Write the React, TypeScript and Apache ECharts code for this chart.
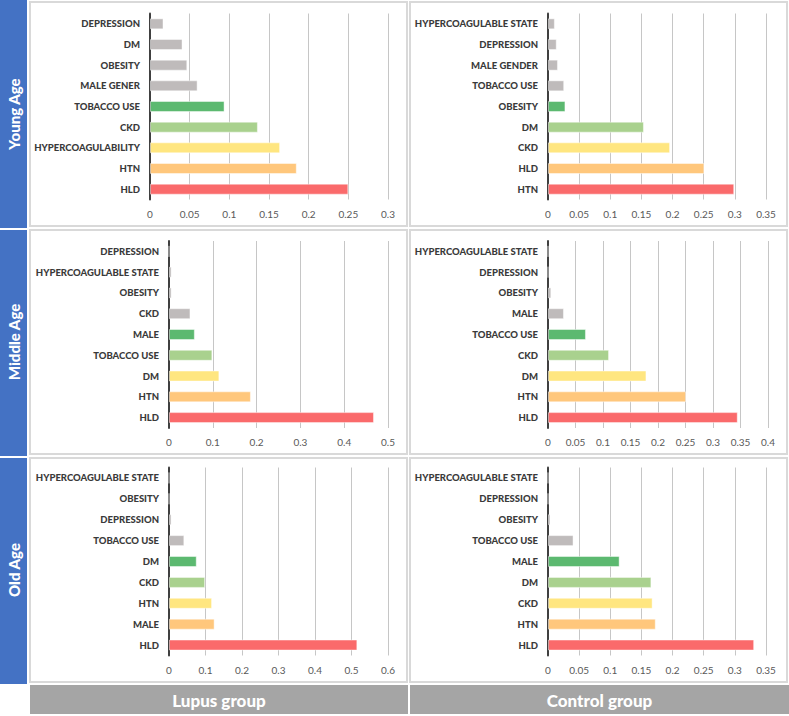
import React, { useEffect, useRef } from "react";
import * as echarts from "echarts";

const youngLupusCats = ["DEPRESSION", "DM", "OBESITY", "MALE GENER", "TOBACCO USE", "CKD", "HYPERCOAGULABILITY", "HTN", "HLD"];
const youngLupusVals = [0.017, 0.041, 0.047, 0.06, 0.094, 0.136, 0.164, 0.185, 0.25];
const youngControlCats = ["HYPERCOAGULABLE STATE", "DEPRESSION", "MALE GENDER", "TOBACCO USE", "OBESITY", "DM", "CKD", "HLD", "HTN"];
const youngControlVals = [0.011, 0.014, 0.016, 0.026, 0.028, 0.154, 0.196, 0.251, 0.299];
const middleLupusCats = ["DEPRESSION", "HYPERCOAGULABLE STATE", "OBESITY", "CKD", "MALE", "TOBACCO USE", "DM", "HTN", "HLD"];
const middleLupusVals = [0, 0.006, 0.006, 0.049, 0.059, 0.099, 0.115, 0.187, 0.468];
const middleControlCats = ["HYPERCOAGULABLE STATE", "DEPRESSION", "OBESITY", "MALE", "TOBACCO USE", "CKD", "DM", "HTN", "HLD"];
const middleControlVals = [0, 0, 0.006, 0.029, 0.069, 0.111, 0.179, 0.251, 0.345];
const oldLupusCats = ["HYPERCOAGULABLE STATE", "OBESITY", "DEPRESSION", "TOBACCO USE", "DM", "CKD", "HTN", "MALE", "HLD"];
const oldLupusVals = [0, 0, 0.007, 0.042, 0.076, 0.099, 0.118, 0.125, 0.516];
const oldControlCats = ["HYPERCOAGULABLE STATE", "DEPRESSION", "OBESITY", "TOBACCO USE", "MALE", "DM", "CKD", "HTN", "HLD"];
const oldControlVals = [0, 0, 0.004, 0.041, 0.115, 0.166, 0.168, 0.173, 0.331];

const rowTitles = ["Young Age", "Middle Age", "Old Age"];
const columnTitles = ["Lupus group", "Control group"];

// colours from top (index 0) to bottom (index 8)
const barColors = ["#bfbbbb", "#bfbbbb", "#bfbbbb", "#bfbbbb", "#5cb970", "#a9d18e", "#ffe680", "#ffc77c", "#fa6a6b"];

const FONT = "Lato, 'Open Sans', sans-serif";

export default function App() {
  const ref = useRef<HTMLDivElement>(null);

  useEffect(() => {
    if (!ref.current) return;
    const chart = echarts.init(ref.current, null, { renderer: "svg" });

    const panels = [
      { cats: youngLupusCats, vals: youngLupusVals, max: 0.3, interval: 0.05, left: 150, right: 401, top: 13.5, bottom: 716 - 199.5 },
      { cats: youngControlCats, vals: youngControlVals, max: 0.35, interval: 0.05, left: 548, right: 23, top: 13.5, bottom: 716 - 199.5 },
      { cats: middleLupusCats, vals: middleLupusVals, max: 0.5, interval: 0.1, left: 169, right: 401, top: 241, bottom: 716 - 428 },
      { cats: middleControlCats, vals: middleControlVals, max: 0.4, interval: 0.05, left: 548, right: 21, top: 241, bottom: 716 - 428 },
      { cats: oldLupusCats, vals: oldLupusVals, max: 0.6, interval: 0.1, left: 169, right: 401, top: 467.5, bottom: 716 - 655.5 },
      { cats: oldControlCats, vals: oldControlVals, max: 0.35, interval: 0.05, left: 548, right: 23, top: 467.5, bottom: 716 - 655.5 },
    ];

    const grid = panels.map((p) => ({ left: p.left, right: p.right, top: p.top, bottom: p.bottom, containLabel: false }));
    const xAxis = panels.map((p, i) => ({
      type: "value",
      gridIndex: i,
      min: 0,
      max: p.max,
      interval: p.interval,
      axisLine: { show: false },
      axisTick: { show: false },
      splitLine: { show: true, lineStyle: { color: "#c6c6c6", width: 1 } },
      axisLabel: { color: "#595959", fontSize: 10, fontFamily: FONT, margin: 9, showMinLabel: true, showMaxLabel: true },
    }));
    const yAxis = panels.map((p, i) => ({
      type: "category",
      gridIndex: i,
      data: p.cats,
      inverse: true,
      axisLine: { show: true, lineStyle: { color: "#404040", width: 2 } },
      axisTick: { show: false },
      axisLabel: { color: "#3a3a3a", fontSize: 9.5, fontWeight: 900, fontFamily: FONT, margin: 10, interval: 0 },
    }));
    const series = panels.map((p, i) => ({
      type: "bar",
      xAxisIndex: i,
      yAxisIndex: i,
      barWidth: 11,
      z: 1,
      data: p.vals.map((v, k) => ({
        value: v,
        itemStyle: { color: barColors[k], borderColor: "rgba(255,255,255,0.45)", borderWidth: 1 },
      })),
    }));

    const rowY = [
      { y: 0, h: 228, fy: 2, fh: 224 },
      { y: 230, h: 226, fy: 230, fh: 224 },
      { y: 458, h: 226, fy: 458, fh: 224 },
    ];
    const graphic: any[] = [];
    rowY.forEach((r, i) => {
      graphic.push({ type: "rect", shape: { x: 0, y: r.y, width: 27, height: r.h }, style: { fill: "#4472c4" }, z: 0 });
      graphic.push({
        type: "text",
        x: 14,
        y: r.fy + r.fh / 2,
        rotation: Math.PI / 2,
        style: { text: rowTitles[i], fill: "#ffffff", font: `900 15px ${FONT}`, align: "center", verticalAlign: "middle" },
        z: 1,
      });
      graphic.push({ type: "rect", shape: { x: 30, y: r.fy, width: 377, height: r.fh }, style: { fill: "none", stroke: "#d9d9d9", lineWidth: 2 }, z: 0 });
      graphic.push({ type: "rect", shape: { x: 410, y: r.fy, width: 377, height: r.fh }, style: { fill: "none", stroke: "#d9d9d9", lineWidth: 2 }, z: 0 });
    });
    const cols = [
      { x: 30, w: 378 },
      { x: 410, w: 379 },
    ];
    cols.forEach((c, i) => {
      graphic.push({ type: "rect", shape: { x: c.x, y: 685, width: c.w, height: 29 }, style: { fill: "#a5a5a5" }, z: 0 });
      graphic.push({
        type: "text",
        x: c.x + c.w / 2,
        y: 700,
        style: { text: columnTitles[i], fill: "#ffffff", font: `900 17px ${FONT}`, align: "center", verticalAlign: "middle" },
        z: 1,
      });
    });

    chart.setOption({
      animation: false,
      backgroundColor: "#ffffff",
      grid,
      xAxis,
      yAxis,
      series,
      graphic,
    });

    return () => chart.dispose();
  }, []);

  return <div ref={ref} style={{ position: "absolute", left: 0, top: 0, width: 789, height: 716 }} />;
}
